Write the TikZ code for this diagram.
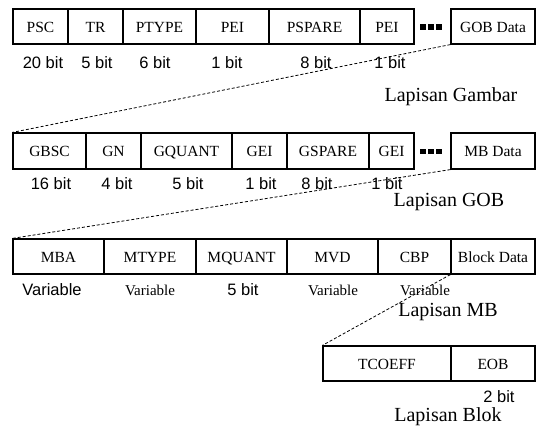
\documentclass[tikz,border=0pt]{standalone}
\usepackage{fontspec}
\setmainfont{Liberation Serif}
\setsansfont{Liberation Sans}
\usepackage{tikz}

\begin{document}
\begin{tikzpicture}[x=1pt,y=-1pt]
	 \tikzstyle{field}=[draw,rectangle,line width=1.2pt,inner sep=0pt,minimum height=35,text height=11.5pt,text depth=0pt,font=\fontsize{15.5}{17}\selectfont]
	 \tikzstyle{bits}=[inner sep=0pt,font=\sffamily\fontsize{16.5}{18}\selectfont]
	 \tikzstyle{var}=[inner sep=0pt,font=\fontsize{15}{17}\selectfont]
	 \tikzstyle{layer}=[inner sep=0pt,font=\fontsize{20}{22}\selectfont]
	 \tikzstyle{link}=[draw,line width=0.8pt,dash pattern=on 3pt off 2pt,black]
	 \tikzstyle{dot}=[fill=black,rectangle,inner sep=0pt,minimum size=5.5]
	 \useasboundingbox (0,0) rectangle (536,427);
	 % picture layer
	 \node[field,minimum width=55] (psc) at (40.5,26.5) {PSC};
	 \node[field,minimum width=55] (tr) at (95.5,26.5) {TR};
	 \node[field,minimum width=73] (ptype) at (159.5,26.5) {PTYPE};
	 \node[field,minimum width=73] (pei) at (232.5,26.5) {PEI};
	 \node[field,minimum width=91] (pspare) at (314.5,26.5) {PSPARE};
	 \node[field,minimum width=54] (pei2) at (387,26.5) {PEI};
	 \node[field,minimum width=84] (gobdata) at (493,26.5) {GOB Data};
	 \node[dot] (pd1) at (423,27) {};
	 \node[dot] (pd2) at (431,27) {};
	 \node[dot] (pd3) at (439,27) {};
	 \node[bits] (pb1) at (43,63) {20 bit};
	 \node[bits] (pb2) at (97,63) {5 bit};
	 \node[bits] (pb3) at (155,63) {6 bit};
	 \node[bits] (pb4) at (227,63) {1 bit};
	 \node[bits] (pb5) at (316,63) {8 bit};
	 \node[bits] (pb6) at (390,63) {1 bit};
	 \node[layer] (lgambar) at (451,97) {Lapisan Gambar};
	 % GOB layer
	 \node[field,minimum width=73,minimum height=36] (gbsc) at (49.5,151) {GBSC};
	 \node[field,minimum width=55,minimum height=36] (gn) at (113.5,151) {GN};
	 \node[field,minimum width=91,minimum height=36] (gquant) at (186.5,151) {GQUANT};
	 \node[field,minimum width=55,minimum height=36] (gei) at (259.5,151) {GEI};
	 \node[field,minimum width=82,minimum height=36] (gspare) at (328,151) {GSPARE};
	 \node[field,minimum width=45,minimum height=36] (gei2) at (391.5,151) {GEI};
	 \node[field,minimum width=84,minimum height=36] (mbdata) at (493,151) {MB Data};
	 \node[dot] (gd1) at (423,151.5) {};
	 \node[dot] (gd2) at (431,151.5) {};
	 \node[dot] (gd3) at (439,151.5) {};
	 \node[bits] (gb1) at (51,184) {16 bit};
	 \node[bits] (gb2) at (117,184) {4 bit};
	 \node[bits] (gb3) at (188,184) {5 bit};
	 \node[bits] (gb4) at (261,184) {1 bit};
	 \node[bits] (gb5) at (317,184) {8 bit};
	 \node[bits] (gb6) at (387,184) {1 bit};
	 \node[layer] (lgob) at (449,202) {Lapisan GOB};
	 % MB layer
	 \node[field,minimum width=91] (mba) at (58.5,256.5) {MBA};
	 \node[field,minimum width=92] (mtype) at (150,256.5) {MTYPE};
	 \node[field,minimum width=91] (mquant) at (241.5,256.5) {MQUANT};
	 \node[field,minimum width=91] (mvd) at (332.5,256.5) {MVD};
	 \node[field,minimum width=73] (cbp) at (414.5,256.5) {CBP};
	 \node[field,minimum width=84] (blockdata) at (493,256.5) {Block Data};
	 \node[bits] (mb1) at (52,290) {Variable};
	 \node[var] (mb2) at (150,290) {Variable};
	 \node[bits] (mb3) at (243,290) {5 bit};
	 \node[var] (mb4) at (333,290) {Variable};
	 \node[var] (mb5) at (425,290) {Variable};
	 \node[layer] (lmb) at (448,312) {Lapisan MB};
	 % block layer
	 \node[field,minimum width=128] (tcoeff) at (387,363.5) {TCOEFF};
	 \node[field,minimum width=84] (eob) at (493,363.5) {EOB};
	 \node[bits] (bb1) at (499,397) {2 bit};
	 \node[layer] (lblok) at (448,417) {Lapisan Blok};
	 % zoom lines
	 \draw[link] (gobdata.south west) -- (gbsc.north west);
	 \draw[link] (mbdata.south west) -- (mba.north west);
	 \draw[link] (blockdata.south west) -- (tcoeff.north west);
\end{tikzpicture}
\end{document}
